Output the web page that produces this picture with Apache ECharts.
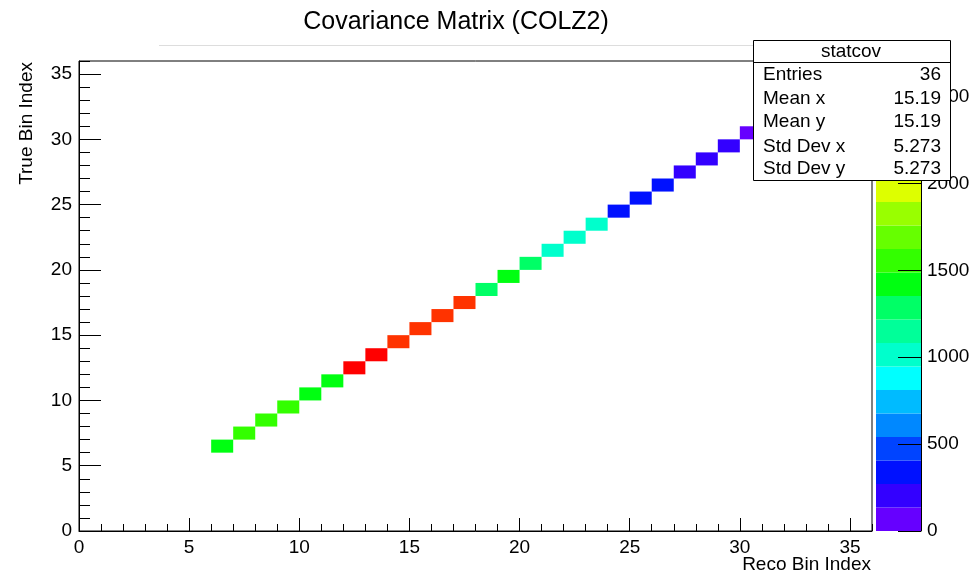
<!DOCTYPE html>
<html>
<head>
<meta charset="utf-8">
<title>Covariance Matrix (COLZ2)</title>
<script src="https://cdn.jsdelivr.net/npm/echarts@6/dist/echarts.min.js"></script>
<style>
html, body { margin: 0; padding: 0; background: #ffffff; }
#chart { width: 971px; height: 574px; }
</style>
</head>
<body>
<div id="chart"></div>
<script>
// bin contents along the diagonal, bin index = array index (0..35)
var binValues = [
  0, 0, 0, 0, 0, 0,
  1430, 1560, 1550, 1540, 1440, 1410,
  2650, 2700, 2520, 2500, 2490, 2470,
  1290, 1400, 1300, 1020, 1000, 980,
  350, 330, 310, 230, 200, 180,
  60, 0, 0, 0, 0, 0
]
// 20 contour levels of the colour palette
var contourLevels = [0, 135, 270, 406, 541, 676, 811, 946, 1082, 1217, 1352,
  1487, 1622, 1758, 1893, 2028, 2163, 2298, 2434, 2569, 2704]
var paletteColors = [
  '#6600ff', '#3300ff', '#0011ff', '#0044ff', '#0088ff',
  '#00bbff', '#00ffff', '#00ffcc', '#00ff99', '#00ff66',
  '#00ff11', '#33ff00', '#66ff00', '#99ff00', '#ddff00',
  '#ffdd00', '#ffaa00', '#ff7700', '#ff3300', '#ff0000'
]
var statLabels = ['Entries', 'Mean x', 'Mean y', 'Std Dev x', 'Std Dev y']
var statValues = ['36', '15.19', '15.19', '5.273', '5.273']

var FONT = '"Liberation Sans", Arial, Helvetica, sans-serif'

var cells = []
binValues.forEach(function (v, i) {
  if (v > 0) cells.push([i, i, v]) // COLZ2: empty bins are not painted
})

var pieces = []
var paletteData = []
for (var k = 0; k < paletteColors.length; k++) {
  pieces.push({ gte: contourLevels[k], lt: contourLevels[k + 1], color: paletteColors[k] })
  paletteData.push({
    value: [0, contourLevels[k], contourLevels[k + 1]],
    itemStyle: { color: paletteColors[k] }
  })
}

function renderCell (params, api) {
  var x = api.value(0)
  var y = api.value(1)
  var p0 = api.coord([x, y + 1])
  var p1 = api.coord([x + 1, y])
  return {
    type: 'rect',
    shape: { x: p0[0], y: p0[1], width: p1[0] - p0[0], height: p1[1] - p0[1] },
    style: { fill: api.visual('color') }
  }
}

function renderBand (params, api) {
  var p0 = api.coord([0, api.value(2)])
  var p1 = api.coord([1, api.value(1)])
  return {
    type: 'rect',
    shape: { x: p0[0], y: p0[1], width: p1[0] - p0[0], height: p1[1] - p0[1] },
    style: api.style()
  }
}

function plain (v) { return String(v) }

var labelStyle = { color: '#000', fontFamily: FONT, fontSize: 19, formatter: plain }

var statFont = '19px ' + FONT
var statGraphics = [
  { type: 'rect', z: 100, shape: { x: 753.5, y: 40.5, width: 197, height: 140 },
    style: { fill: '#fff', stroke: '#000', lineWidth: 1 } },
  { type: 'line', z: 101, shape: { x1: 753.5, y1: 62.5, x2: 950.5, y2: 62.5 },
    style: { stroke: '#000', lineWidth: 1 } },
  { type: 'text', z: 101, x: 851, y: 52,
    style: { text: 'statcov', fill: '#000', font: statFont, textAlign: 'center', textVerticalAlign: 'middle' } }
]
var statRowY = [75, 99, 122, 147, 169]
statLabels.forEach(function (lab, i) {
  statGraphics.push({ type: 'text', z: 101, x: 763, y: statRowY[i],
    style: { text: lab, fill: '#000', font: statFont, textAlign: 'left', textVerticalAlign: 'middle' } })
  statGraphics.push({ type: 'text', z: 101, x: 941, y: statRowY[i],
    style: { text: statValues[i], fill: '#000', font: statFont, textAlign: 'right', textVerticalAlign: 'middle' } })
})

var chart = echarts.init(document.getElementById('chart'), null, { renderer: 'canvas' })
chart.setOption({
  animation: false,
  backgroundColor: '#ffffff',
  grid: [
    { left: 79, top: 61, width: 793, height: 470, outerBoundsMode: 'none', containLabel: false,
      show: true, borderColor: '#000', borderWidth: 1, backgroundColor: 'transparent' },
    { left: 876, top: 61, width: 45, height: 470, outerBoundsMode: 'none', containLabel: false, show: false }
  ],
  xAxis: [
    {
      type: 'value', gridIndex: 0, position: 'bottom', min: 0, max: 36, interval: 5,
      axisLine: { show: true, onZero: false, lineStyle: { color: '#000', width: 1 } },
      axisTick: { show: true, inside: true, length: 13, lineStyle: { color: '#000' } },
      axisLabel: Object.assign({ margin: 7, showMaxLabel: false }, labelStyle),
      splitLine: { show: false }
    },
    {
      type: 'value', gridIndex: 0, position: 'bottom', offset: 0, min: 0, max: 36, interval: 1,
      axisLine: { show: false, onZero: false },
      axisTick: { show: true, inside: true, length: 7, lineStyle: { color: '#000' } },
      axisLabel: { show: false },
      splitLine: { show: false }
    },
    {
      type: 'value', gridIndex: 1, min: 0, max: 1, show: false,
      axisLine: { onZero: false }
    }
  ],
  yAxis: [
    {
      type: 'value', gridIndex: 0, position: 'left', min: 0, max: 36, interval: 5,
      axisLine: { show: true, onZero: false, lineStyle: { color: '#000', width: 1 } },
      axisTick: { show: true, inside: true, length: 22, lineStyle: { color: '#000' } },
      axisLabel: Object.assign({ margin: 7, showMaxLabel: false }, labelStyle),
      splitLine: { show: false }
    },
    {
      type: 'value', gridIndex: 0, position: 'left', offset: 0, min: 0, max: 36, interval: 1,
      axisLine: { show: false, onZero: false },
      axisTick: { show: true, inside: true, length: 11, lineStyle: { color: '#000' } },
      axisLabel: { show: false },
      splitLine: { show: false }
    },
    {
      type: 'value', gridIndex: 1, position: 'right', offset: 0, min: 0, max: 2704, interval: 500, z: 10,
      axisLine: { show: true, onZero: false, lineStyle: { color: '#000', width: 1 } },
      axisTick: { show: true, inside: true, length: 23, lineStyle: { color: '#000' } },
      axisLabel: Object.assign({ margin: 6, showMaxLabel: false }, labelStyle),
      splitLine: { show: false }
    }
  ],
  visualMap: {
    type: 'piecewise', show: false, seriesIndex: 0, dimension: 2, pieces: pieces
  },
  series: [
    {
      type: 'custom', name: 'statcov', xAxisIndex: 0, yAxisIndex: 0,
      renderItem: renderCell, data: cells, clip: true,
      encode: { x: 0, y: 1 }
    },
    {
      type: 'custom', name: 'palette', xAxisIndex: 2, yAxisIndex: 2, z: 1,
      renderItem: renderBand, data: paletteData,
      encode: { x: 0, y: [1, 2] }
    }
  ],
  graphic: [
    { type: 'line', z: 50, shape: { x1: 159, y1: 45.5, x2: 753, y2: 45.5 }, style: { stroke: '#dddddd', lineWidth: 1 } },
    { type: 'text', z: 60, x: 456, y: 22,
      style: { text: 'Covariance Matrix (COLZ2)', fill: '#000', font: '25px ' + FONT, textAlign: 'center', textVerticalAlign: 'middle' } },
    { type: 'text', z: 60, x: 871, y: 565,
      style: { text: 'Reco Bin Index', fill: '#000', font: '19px ' + FONT, textAlign: 'right', textVerticalAlign: 'middle' } },
    { type: 'text', z: 60, x: 27, y: 62, rotation: Math.PI / 2,
      style: { text: 'True Bin Index', fill: '#000', font: '19px ' + FONT, textAlign: 'right', textVerticalAlign: 'middle' } }
  ].concat(statGraphics)
})
</script>
</body>
</html>
